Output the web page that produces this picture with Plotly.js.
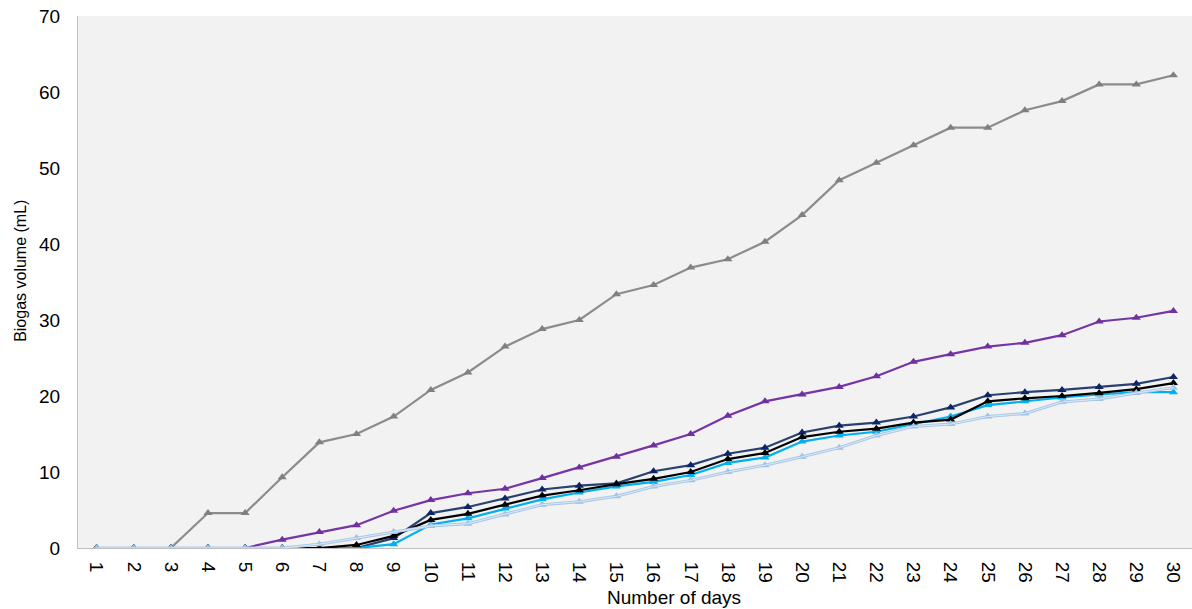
<!DOCTYPE html>
<html>
<head>
<meta charset="utf-8">
<script src="https://cdn.plot.ly/plotly-3.0.1.min.js"></script>
<style>html,body{margin:0;padding:0;background:#fff;}#chart{width:1192px;height:609px;}</style>
</head>
<body>
<div id="chart"></div>
<script>
const days = ['1','2','3','4','5','6','7','8','9','10','11','12','13','14','15','16','17','18','19','20','21','22','23','24','25','26','27','28','29','30'];
const greySeries = [0,0,0,4.6,4.6,9.3,13.9,15.0,17.3,20.8,23.1,26.5,28.8,30.0,33.4,34.6,36.9,38.0,40.3,43.8,48.4,50.7,53.0,55.3,55.3,57.6,58.8,61.0,61.0,62.2];
const purpleSeries = [0,0,0,0,0,1.1,2.1,3.0,4.9,6.3,7.2,7.8,9.2,10.6,12.0,13.5,15.0,17.4,19.3,20.2,21.2,22.6,24.5,25.5,26.5,27.0,28.0,29.8,30.3,31.2];
const navySeries = [0,0,0,0,0,0,0,0,1.3,4.6,5.4,6.5,7.7,8.2,8.5,10.1,10.9,12.4,13.2,15.2,16.1,16.5,17.3,18.5,20.1,20.5,20.8,21.2,21.6,22.5];
const blackSeries = [0,0,0,0,0,0,0,0.4,1.6,3.7,4.5,5.7,6.9,7.6,8.4,9.1,10.0,11.7,12.5,14.6,15.3,15.7,16.5,16.9,19.3,19.7,20.0,20.4,20.9,21.7];
const cyanSeries = [0,0,0,0,0,0,0,0,0.5,3.1,3.9,5.2,6.4,7.3,8.1,8.7,9.6,11.2,11.9,14.0,14.8,15.3,16.3,17.3,18.8,19.3,19.8,20.2,20.5,20.5];
const lightBlueSeries = [0,0,0,0,0,0,0.5,1.3,2.1,2.9,3.2,4.4,5.7,6.1,6.8,8.1,8.9,10.0,10.9,12.0,13.2,14.8,16.0,16.3,17.3,17.7,19.2,19.6,20.4,21.1];
const xTitle = 'Number of days';
const yTitle = 'Biogas volume (mL)';

function tr(y, lineColor, markerColor, w) {
  return {x: days, y: y, type: 'scatter', mode: 'lines+markers',
    line: {color: lineColor, width: w || 2.2},
    marker: {symbol: 'triangle-up', size: 8, color: markerColor},
    hoverinfo: 'skip', showlegend: false};
}
const traces = [
  tr(greySeries, '#8c8c8c', '#808080'),
  tr(purpleSeries, '#7535a5', '#7030a0'),
  tr(navySeries, '#2a4170', '#0b2566'),
  tr(cyanSeries, '#00b0f0', '#00b0f0'),
  tr(blackSeries, '#000000', '#000000'),
  tr(lightBlueSeries, '#a9c8e8', '#9dc3e6', 3),
  {x: days, y: lightBlueSeries, type: 'scatter', mode: 'lines',
   line: {color: '#dde9f6', width: 1}, hoverinfo: 'skip', showlegend: false}
];
const fontFam = 'Liberation Sans, Arial, sans-serif';
const layout = {
  width: 1192, height: 609,
  margin: {l: 78, r: 0, t: 16, b: 61},
  paper_bgcolor: '#ffffff', plot_bgcolor: '#f2f2f2',
  font: {family: fontFam, size: 19, color: '#000'},
  xaxis: {type: 'category', range: [-0.5, 29.5], tickangle: 90, showgrid: false, zeroline: false,
    showline: true, linecolor: '#c0c0c0', linewidth: 1,
    ticks: 'outside', ticklen: 9, tickcolor: 'rgba(0,0,0,0)', tickfont: {size: 19}},
  yaxis: {range: [0, 70], dtick: 10, showgrid: false, zeroline: false,
    showline: true, linecolor: '#c0c0c0', linewidth: 1,
    ticks: 'outside', ticklen: 13, tickcolor: 'rgba(0,0,0,0)', tickfont: {size: 19}},
  annotations: [
    {text: xTitle, xref: 'paper', yref: 'paper', x: 0.535, y: 0, yshift: -62, xanchor: 'center', yanchor: 'bottom',
     showarrow: false, font: {size: 19}},
    {text: yTitle, xref: 'paper', yref: 'paper', x: 0, xshift: -68, y: 0.52, textangle: -90, xanchor: 'left', yanchor: 'middle',
     showarrow: false, font: {size: 16}}
  ],
  showlegend: false
};
Plotly.newPlot('chart', traces, layout, {displayModeBar: false, staticPlot: true});
</script>
</body>
</html>
